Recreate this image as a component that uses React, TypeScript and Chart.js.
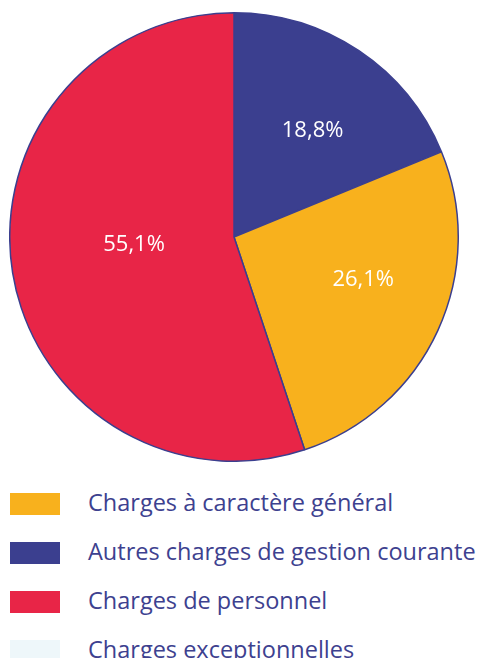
import React, { useEffect, useRef } from "react";
import { Chart, registerables } from "chart.js";

Chart.register(...registerables);

// Legend order
const categories = [
  "Charges à caractère général",
  "Autres charges de gestion courante",
  "Charges de personnel",
  "Charges exceptionnelles",
];
const values = [26.1, 18.8, 55.1, 0];
const colors = ["#F8B11D", "#3B3F8F", "#E82547", "#EEF7FA"];
// Order in which slices are drawn clockwise from 12 o'clock
const sliceOrder = [1, 0, 2, 3];
// Label placement styling (angle nudge in degrees, radius fraction) per slice in draw order
const labelAngleNudge = [2.6, -6.3, 4.6, 0];
const labelRadiusFrac = [0.59, 0.607, 0.447, 0.5];

const FONT = "'Open Sans', 'Noto Sans', sans-serif";
const TEXT_COLOR = "#3D418F";

const fmt = (v: number) => v.toFixed(1).replace(".", ",") + "%";

const labelPlugin = {
  id: "sliceLabels",
  afterDatasetsDraw(chart: any) {
    const ctx = chart.ctx;
    const meta = chart.getDatasetMeta(0);
    const data = chart.data.datasets[0].data as number[];
    ctx.save();
    ctx.fillStyle = "#FFFFFF";
    ctx.font = `22px ${FONT}`;
    ctx.textAlign = "center";
    ctx.textBaseline = "middle";
    meta.data.forEach((arc: any, i: number) => {
      const v = data[i];
      if (!v) return;
      const p = arc.getProps(["x", "y", "startAngle", "endAngle", "outerRadius"], true);
      const mid = (p.startAngle + p.endAngle) / 2 + (labelAngleNudge[i] * Math.PI) / 180;
      const r = p.outerRadius * labelRadiusFrac[i];
      ctx.fillText(fmt(v), p.x + Math.cos(mid) * r, p.y + Math.sin(mid) * r);
    });
    ctx.restore();
  },
};

export default function App() {
  const ref = useRef<HTMLCanvasElement | null>(null);
  useEffect(() => {
    if (!ref.current) return;
    const chart = new Chart(ref.current, {
      type: "pie",
      data: {
        labels: sliceOrder.map((i) => categories[i]),
        datasets: [
          {
            data: sliceOrder.map((i) => values[i]),
            backgroundColor: sliceOrder.map((i) => colors[i]),
            borderColor: "#3B3F8F",
            borderWidth: 1.5,
          },
        ],
      },
      options: {
        responsive: false,
        animation: false,
        layout: { padding: 0 },
        plugins: { legend: { display: false }, tooltip: { enabled: false } },
      },
      plugins: [labelPlugin],
    });
    return () => chart.destroy();
  }, []);

  return (
    <div
      style={{
        position: "absolute",
        left: 0,
        top: 0,
        width: 480,
        height: 658,
        background: "#fff",
        overflow: "hidden",
        fontFamily: FONT,
      }}
    >
      <canvas
        ref={ref}
        width={450}
        height={450}
        style={{ position: "absolute", left: 9, top: 12, width: 450, height: 450 }}
      />
      {categories.map((c, i) => (
        <div
          key={c}
          style={{
            position: "absolute",
            left: 10,
            top: 493 + i * 49,
            height: 22,
            display: "flex",
            alignItems: "center",
            whiteSpace: "nowrap",
          }}
        >
          <span style={{ width: 50, height: 22, background: colors[i], display: "inline-block", flex: "none" }} />
          <span
            style={{
              marginLeft: 28,
              fontSize: 23.5,
              color: TEXT_COLOR,
              lineHeight: "22px",
              position: "relative",
              top: -2,
            }}
          >
            {c}
          </span>
        </div>
      ))}
    </div>
  );
}
